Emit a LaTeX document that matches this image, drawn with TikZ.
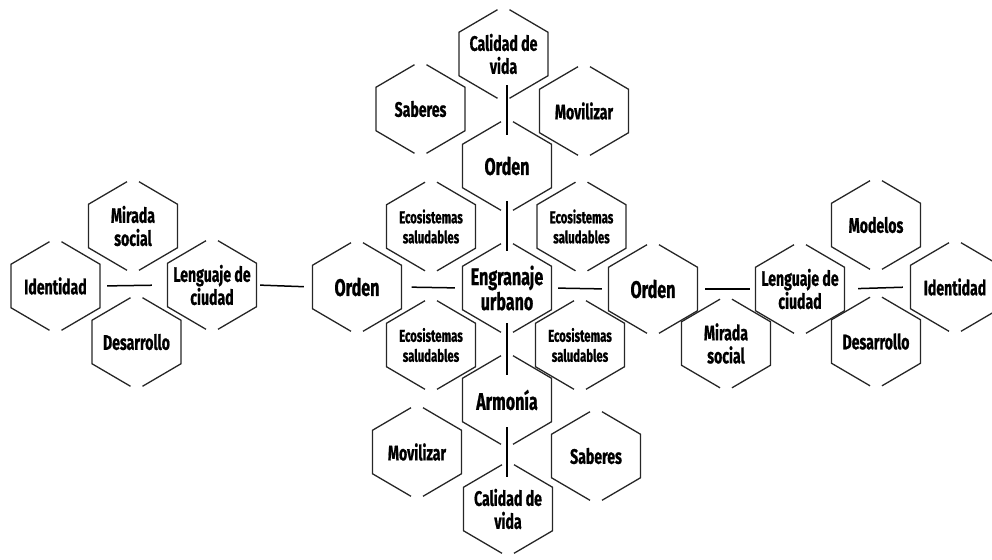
\documentclass[tikz,border=0pt]{standalone}
\usepackage{fontspec}
\setmainfont{Fira Sans}[FakeStretch=0.67,BoldFeatures={FakeBold=0.8}]
\newcommand\hexbig{\fontsize{24}{25}\selectfont\bfseries}
\newcommand\hexmid{\fontsize{21}{23}\selectfont\bfseries}
\newcommand\hexsmall{\fontsize{17}{20}\selectfont\bfseries}
\begin{document}
\begin{tikzpicture}[x=1pt,y=-1pt,
  hexa/.style={minimum width=89pt,minimum height=96pt,inner sep=0pt,align=center,font=\hexmid},
  hexline/.style={black!85,line width=1.3pt},
  link/.style={black,line width=1.5pt}]
\useasboundingbox (0,0) rectangle (992,559);
\node[hexa] (idL) at (55.5,286) {Identidad};
\node[hexa] (mirL) at (133,226) {Mirada\\social};
\node[hexa] (desL) at (136.5,342) {Desarrollo};
\node[hexa] (lenL) at (212,285) {Lenguaje de\\ciudad};
\node[hexa,font=\hexbig] (ordL) at (357,287) {Orden};
\node[hexa,font=\hexbig] (eng) at (507,288) {Engranaje\\urbano};
\node[hexa,font=\hexsmall] (ecoTL) at (431,226.5) {Ecosistemas\\saludables};
\node[hexa,font=\hexsmall] (ecoTR) at (581.5,226.5) {Ecosistemas\\saludables};
\node[hexa,font=\hexsmall] (ecoBL) at (431,345) {Ecosistemas\\saludables};
\node[hexa,font=\hexsmall] (ecoBR) at (580,345) {Ecosistemas\\saludables};
\node[hexa,font=\hexbig] (ordT) at (507,166) {Orden};
\node[hexa] (calT) at (503.5,54) {Calidad de\\vida};
\node[hexa] (sabT) at (420.5,109) {Saberes};
\node[hexa] (movT) at (584,111) {Movilizar};
\node[hexa,font=\hexbig] (arm) at (507,400) {Armonía};
\node[hexa] (movB) at (417,452) {Movilizar};
\node[hexa] (sabB) at (596,456) {Saberes};
\node[hexa] (calB) at (508,509) {Calidad de\\vida};
\node[hexa,font=\hexbig] (ordR) at (653,289) {Orden};
\node[hexa] (mirR) at (726,343.5) {Mirada\\social};
\node[hexa] (lenR) at (800,289) {Lenguaje de\\ciudad};
\node[hexa] (modR) at (876,225) {Modelos};
\node[hexa] (desR) at (876,341.5) {Desarrollo};
\node[hexa] (idR) at (955,287) {Identidad};
\foreach \h in {idL,mirL,desL,lenL,ordL,eng,ecoTL,ecoTR,ecoBL,ecoBR,ordT,calT,sabT,movT,arm,movB,sabB,calB,ordR,mirR,lenR,modR,desR,idR}{
  \draw[hexline] ([shift={(-6,-44.3)}]\h.center) -- ++(-38.5,22.55) -- ++(0,43.5) -- ++(38.5,22.55);
  \draw[hexline] ([shift={(6,-44.3)}]\h.center) -- ++(38.5,22.55) -- ++(0,43.5) -- ++(-38.5,22.55);
}
\draw[link,shorten <=7pt,shorten >=15.5pt] (idL.east) -- (lenL.west);
\draw[link,shorten <=3.5pt,shorten >=8.5pt] (lenL.east) -- (ordL.west);
\draw[link,shorten <=10pt,shorten >=7.5pt] (ordL.east) -- (eng.west);
\draw[link,shorten <=6.5pt,shorten >=6.5pt] (eng.east) -- (ordR.west);
\draw[link,shorten <=7.5pt,shorten >=5.5pt] (ordR.east) -- (lenR.west);
\draw[link,shorten <=13.5pt,shorten >=7.5pt] (lenR.east) -- (idR.west);
\draw[link,shorten <=-17pt,shorten >=-17pt] (ordT.north |- calT.south) -- (ordT.north);
\draw[link,shorten <=-13pt,shorten >=-11pt] (ordT.south) -- (eng.north);
\draw[link,shorten <=-13pt,shorten >=-23pt] (eng.south) -- (arm.north);
\draw[link,shorten <=-21pt,shorten >=-16pt] (arm.south) -- (arm.south |- calB.north);
\end{tikzpicture}
\end{document}
